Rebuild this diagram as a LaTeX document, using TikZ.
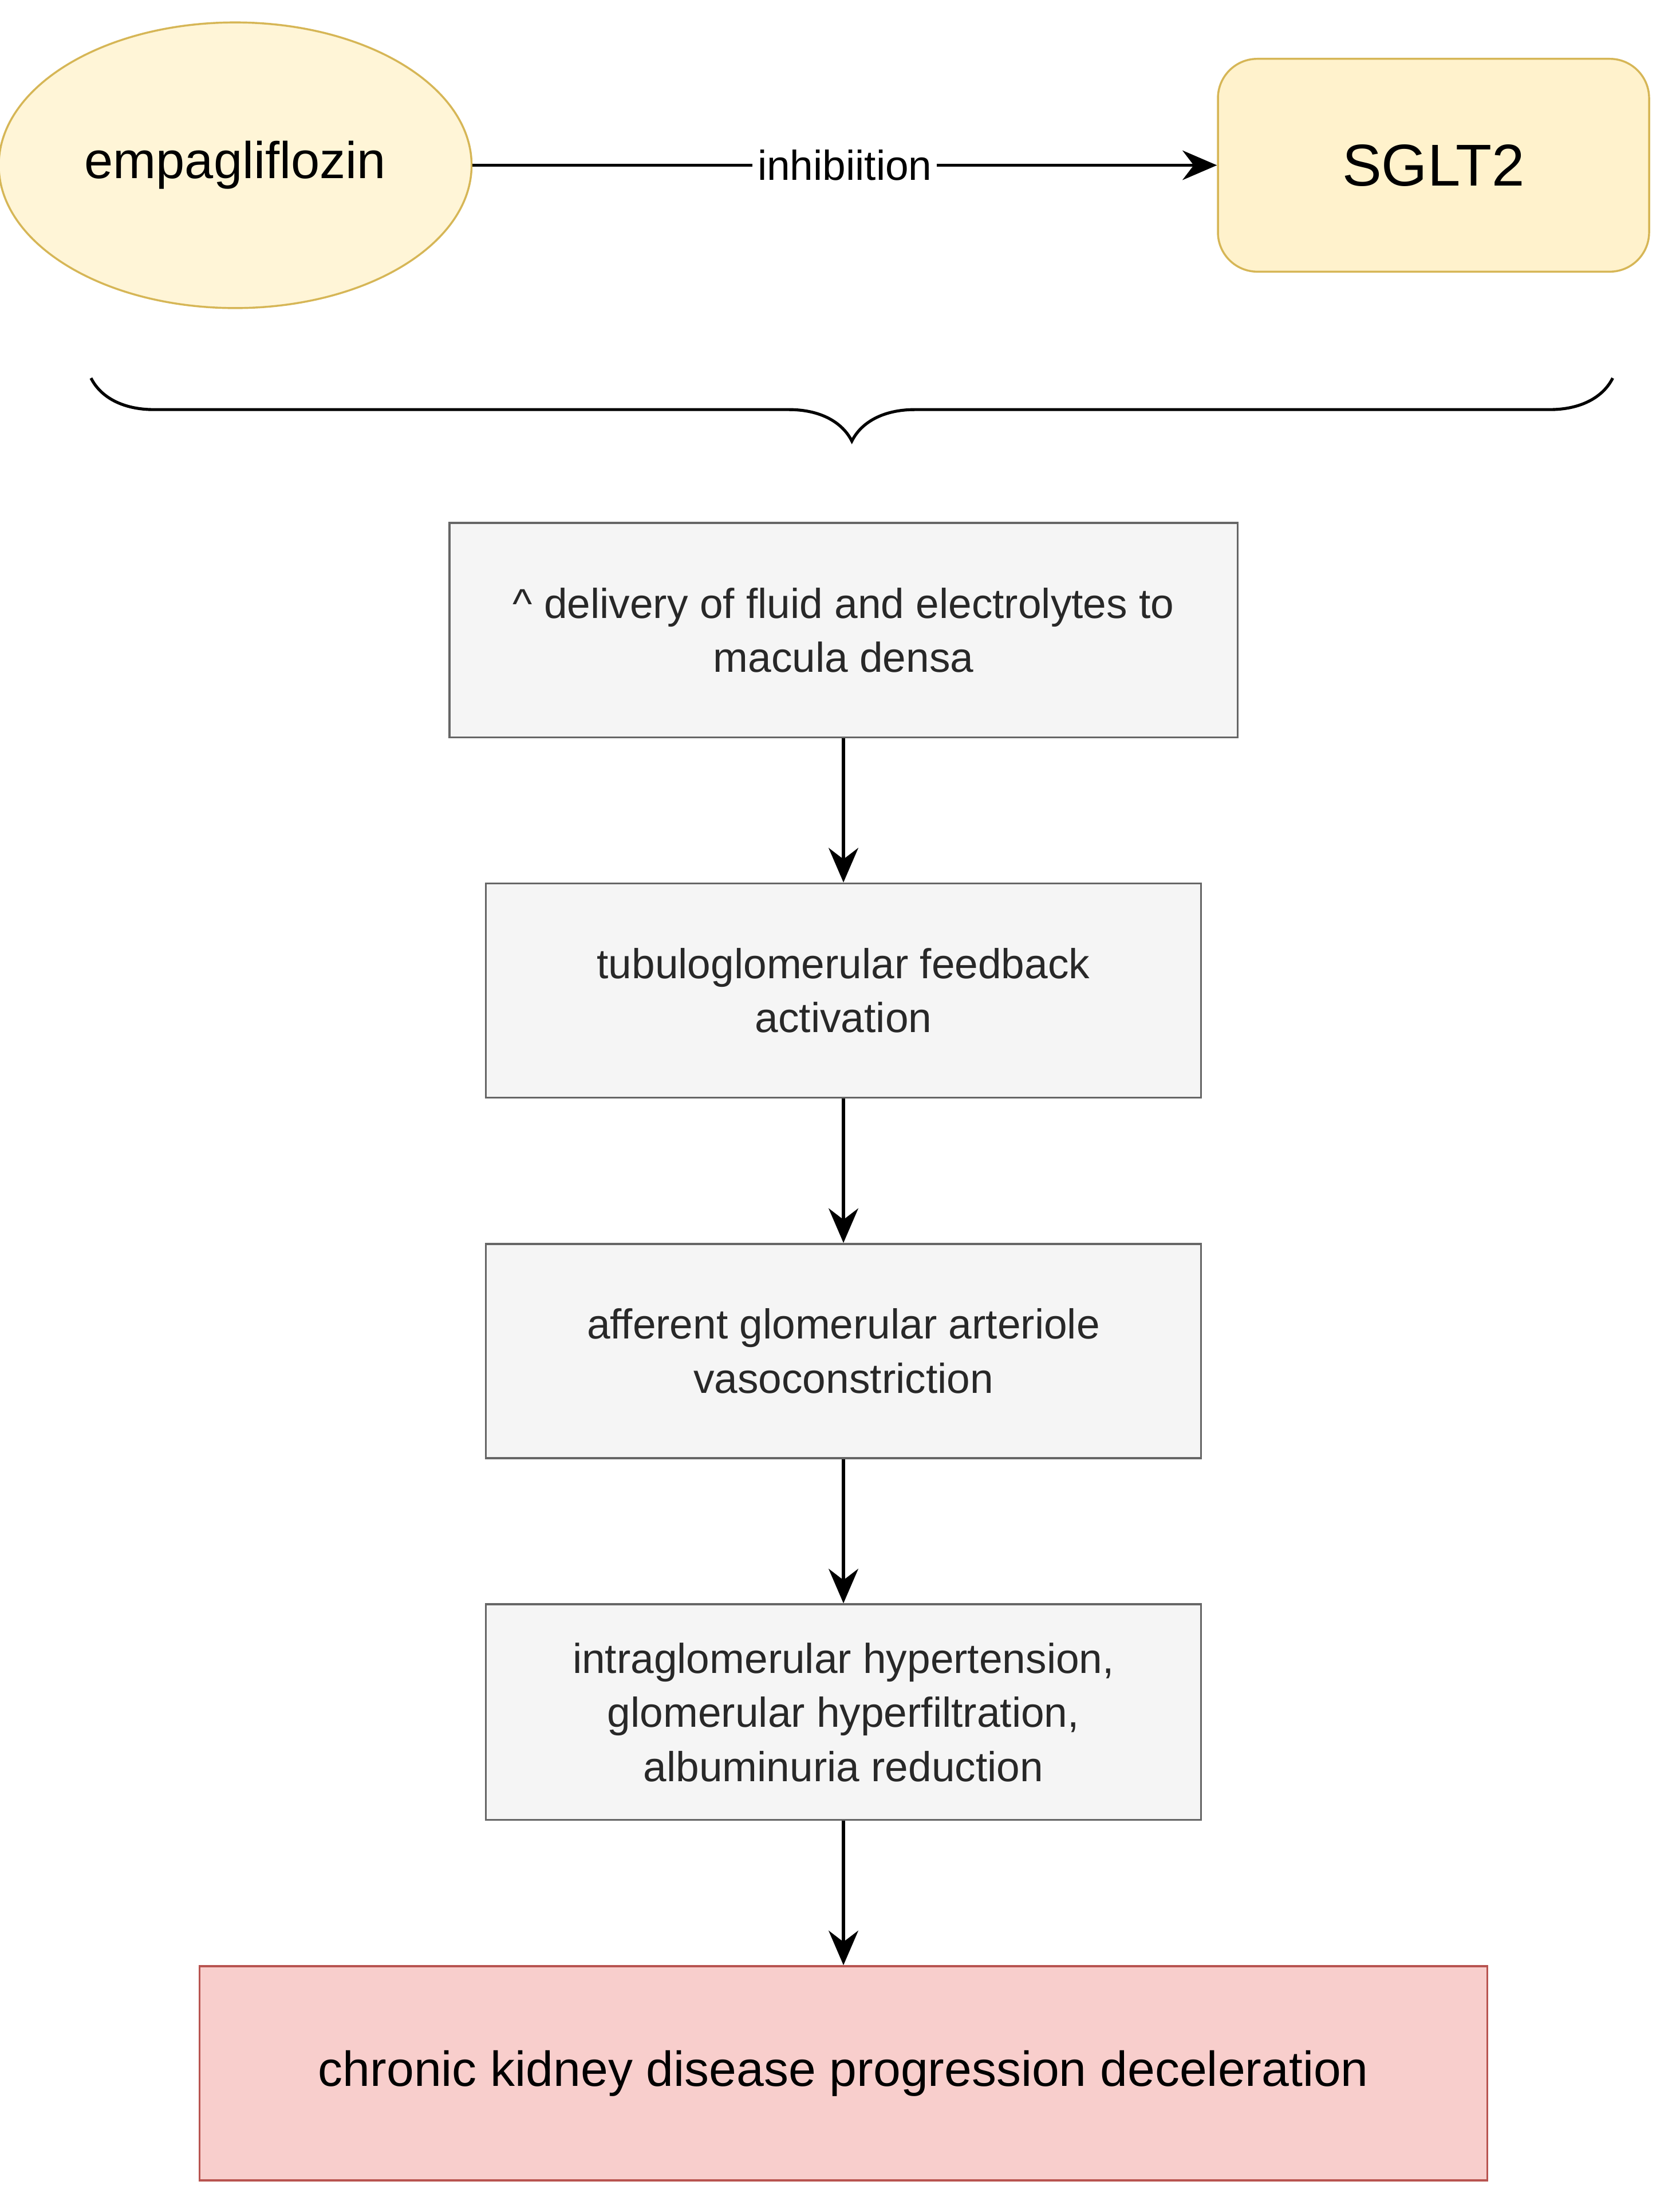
\documentclass[tikz,border=0pt]{standalone}
\usepackage{fontspec}
\setmainfont{Liberation Sans}
\usetikzlibrary{positioning,arrows.meta,shapes.geometric,decorations.pathreplacing}
\definecolor{DrugFill}{RGB}{255,245,215}
\definecolor{TargetFill}{RGB}{255,242,204}
\definecolor{GoldLine}{RGB}{214,182,86}
\definecolor{StepFill}{RGB}{245,245,245}
\definecolor{StepLine}{RGB}{102,102,102}
\definecolor{EndFill}{RGB}{248,206,204}
\definecolor{EndLine}{RGB}{184,84,80}
\definecolor{TextGrey}{RGB}{40,40,40}

\begin{document}
\begin{tikzpicture}[
    font=\fontsize{8.5}{11}\selectfont,
    stepbox/.style={draw=StepLine, fill=StepFill, minimum width=5.11cm, minimum height=1.53cm, align=center, text=TextGrey},
    flow/.style={-{Stealth[length=7pt,width=6pt]}, thick},
]
    \useasboundingbox (0,0) rectangle (12.0,-15.69);

    % Top row
    \node[ellipse, draw=GoldLine, fill=DrugFill, minimum width=3.06cm, minimum height=2.04cm,
          font=\fontsize{10.5}{12}\selectfont] (drug) at (1.68,-1.18) {empagliflozin};
    \node[draw=GoldLine, fill=TargetFill, rounded corners=8pt, minimum width=3.08cm, minimum height=1.52cm,
          font=\fontsize{12}{14}\selectfont] (sglt) at (10.24,-1.18) {SGLT2};
    \draw[flow, semithick] (drug) -- node[fill=white, inner sep=1pt] {inhibiition} (sglt);

    % Brace
    \coordinate (braceR) at (11.52,-2.70);
    \coordinate (braceL) at (0.65,-2.70);
    \draw[semithick, decorate, decoration={brace, amplitude=0.45cm}] (braceR) -- (braceL);

    % Steps
    \node[stepbox, minimum width=5.63cm] (s1) at (6.025,-4.50) {\^{} delivery of fluid and electrolytes to\\macula densa};
    \node[stepbox, below=1.03cm of s1] (s2) {tubuloglomerular feedback\\activation};
    \node[stepbox, below=1.03cm of s2] (s3) {afferent glomerular arteriole\\vasoconstriction};
    \node[stepbox, below=1.03cm of s3, minimum height=1.54cm] (s4) {intraglomerular hypertension,\\glomerular hyperfiltration,\\albuminuria reduction};
    \node[draw=EndLine, fill=EndFill, minimum width=9.2cm, minimum height=1.53cm,
          font=\fontsize{10}{12}\selectfont, below=1.03cm of s4] (end) {chronic kidney disease progression deceleration};

    \draw[flow] (s1) -- (s2);
    \draw[flow] (s2) -- (s3);
    \draw[flow] (s3) -- (s4);
    \draw[flow] (s4) -- (end);
\end{tikzpicture}
\end{document}
